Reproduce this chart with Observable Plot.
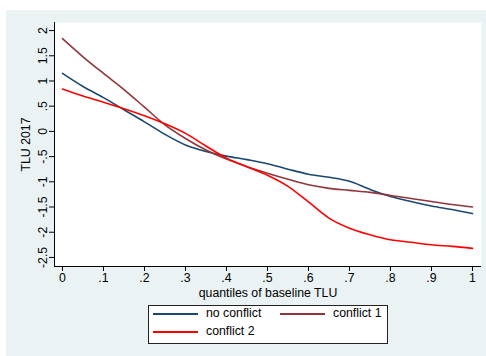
<!DOCTYPE html>
<html>
<head>
<meta charset="utf-8">
<script src="https://cdn.jsdelivr.net/npm/d3@7"></script>
<script src="https://cdn.jsdelivr.net/npm/@observablehq/plot@0.6"></script>
<style>
  html, body { margin: 0; padding: 0; background: #ffffff; width: 486px; height: 356px; overflow: hidden; }
  #chart { position: absolute; left: 6px; top: 10px; width: 480px; height: 346px; background: #eaf2f3; }
  #legend { position: absolute; left: 148px; top: 305px; width: 238px; height: 37px; background: #ffffff; border: 1px solid #222; font-family: "Liberation Sans", Arial, sans-serif; font-size: 12.3px; color: #000; }
  .key { position: absolute; height: 1.6px; width: 45px; }
  .lab { position: absolute; line-height: 14px; white-space: nowrap; }
</style>
</head>
<body>
<div id="chart"></div>
<div id="legend"></div>
<script>
const quantiles = [0, 0.05, 0.1, 0.15, 0.2, 0.25, 0.3, 0.35, 0.4, 0.45, 0.5, 0.55, 0.6, 0.65, 0.7, 0.75, 0.8, 0.85, 0.9, 0.95, 1.0];
const noConflict = [1.15, 0.89, 0.67, 0.43, 0.19, -0.06, -0.27, -0.40, -0.49, -0.56, -0.64, -0.75, -0.85, -0.91, -0.99, -1.15, -1.29, -1.39, -1.48, -1.55, -1.63];
const conflict1 = [1.84, 1.48, 1.15, 0.83, 0.48, 0.13, -0.14, -0.37, -0.55, -0.70, -0.83, -0.95, -1.06, -1.13, -1.17, -1.21, -1.27, -1.33, -1.39, -1.45, -1.50];
const conflict2 = [0.84, 0.70, 0.58, 0.45, 0.31, 0.15, -0.04, -0.29, -0.53, -0.70, -0.87, -1.09, -1.40, -1.72, -1.92, -2.05, -2.15, -2.20, -2.25, -2.28, -2.32];
const seriesNames = ["no conflict", "conflict 1", "conflict 2"];
const seriesColors = ["#1a476f", "#90353b", "#ff0000"];
const xTicks = [0, 0.1, 0.2, 0.3, 0.4, 0.5, 0.6, 0.7, 0.8, 0.9, 1];
const yTicks = [-2.5, -2, -1.5, -1, -0.5, 0, 0.5, 1, 1.5, 2];

const seriesValues = [noConflict, conflict1, conflict2];
const data = [];
seriesNames.forEach((name, i) => {
  quantiles.forEach((q, j) => data.push({ q, v: seriesValues[i][j], series: name }));
});
const fmt = d => (d === 0 ? "0" : String(d).replace(/^(-?)0\./, "$1."));

const plot = Plot.plot({
  width: 480,
  height: 346,
  marginLeft: 48,
  marginRight: 5,
  marginTop: 12,
  marginBottom: 90,
  style: { background: "transparent", fontFamily: "'Liberation Sans', Arial, sans-serif", fontSize: "12.3px", color: "#000" },
  x: { domain: [-0.0195, 1.022] },
  y: { domain: [-2.68, 2.16] },
  color: { domain: seriesNames, range: seriesColors },
  marks: [
    Plot.frame({ fill: "white", stroke: null }),
    Plot.axisY({ ticks: yTicks, tickFormat: fmt, tickSize: 5, tickRotate: -90, tickPadding: 3, label: "TLU 2017", labelAnchor: "center", labelArrow: "none", labelOffset: 33, stroke: "#000" }),
    Plot.axisX({ ticks: xTicks, tickFormat: fmt, tickSize: 5, tickPadding: 2, label: "quantiles of baseline TLU", labelAnchor: "center", labelArrow: "none", labelOffset: 30, stroke: "#000" }),
    Plot.ruleX([-0.0195], { stroke: "#000", strokeWidth: 1 }),
    Plot.ruleY([-2.68], { stroke: "#000", strokeWidth: 1 }),
    Plot.line(data, { x: "q", y: "v", stroke: "series", z: "series", strokeWidth: 1.6, curve: "monotone-x" })
  ]
});
document.getElementById("chart").appendChild(plot);

// Legend (HTML)
const legend = document.getElementById("legend");
const pos = [
  { kx: 4, ky: 7, tx: 57, ty: 0 },
  { kx: 131, ky: 7, tx: 184, ty: 0 },
  { kx: 4, ky: 25, tx: 57, ty: 18 }
];
seriesNames.forEach((name, i) => {
  const k = document.createElement("div");
  k.className = "key";
  k.style.left = pos[i].kx + "px";
  k.style.top = pos[i].ky + "px";
  k.style.background = seriesColors[i];
  legend.appendChild(k);
  const t = document.createElement("div");
  t.className = "lab";
  t.style.left = pos[i].tx + "px";
  t.style.top = pos[i].ty + "px";
  t.textContent = name;
  legend.appendChild(t);
});
</script>
</body>
</html>
